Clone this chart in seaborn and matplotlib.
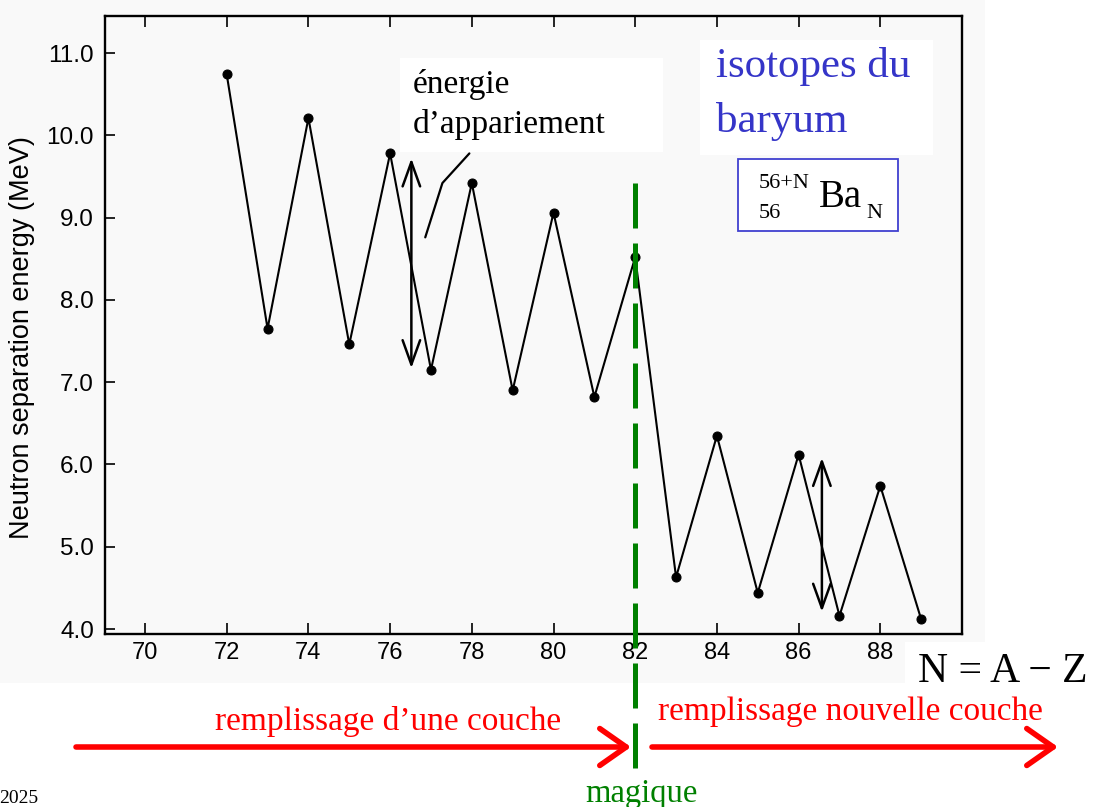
import numpy as np
import pandas as pd
import matplotlib
matplotlib.use("Agg")
import matplotlib.pyplot as plt
import matplotlib.transforms as mtransforms
from matplotlib.patches import Rectangle, FancyArrowPatch
from matplotlib.lines import Line2D
import seaborn as sns

# ---------------- data ----------------
neutrons = [72, 73, 74, 75, 76, 77, 78, 79, 80, 81, 82, 83, 84, 85, 86, 87, 88, 89]
sep_energy = [10.74, 7.65, 10.21, 7.46, 9.78, 7.15, 9.42, 6.90, 9.06, 6.82,
              8.52, 4.63, 6.35, 4.44, 6.12, 4.16, 5.74, 4.12]
x_ticks = [70, 72, 74, 76, 78, 80, 82, 84, 86, 88]
y_ticks = [4.0, 5.0, 6.0, 7.0, 8.0, 9.0, 10.0, 11.0]
magic_number = 82

df = pd.DataFrame({"N": neutrons, "Sn": sep_energy})

W, H = 1099, 807
sns.set_theme(style="white")
plt.rcParams['font.family'] = ['Liberation Sans', 'DejaVu Sans']
SERIF = ['Liberation Serif', 'DejaVu Serif']

fig = plt.figure(figsize=(W / 100, H / 100), dpi=100)
fig.patch.set_facecolor('white')


def fx(x):
    return x / W


def fy(y):
    return 1 - y / H


def frect(x0, y0, x1, y1, **kw):
    r = Rectangle((fx(x0), fy(y1)), (x1 - x0) / W, (y1 - y0) / H,
                  transform=fig.transFigure, **kw)
    fig.add_artist(r)
    return r


# scanned-page background
frect(0, 0, 985, 642, facecolor='#f9f9f9', edgecolor='none', zorder=-5)
frect(0, 642, 905, 683, facecolor='#f9f9f9', edgecolor='none', zorder=-5)

# ---------------- axes ----------------
ax = fig.add_axes([fx(105), fy(634), fx(962) - fx(105), (634 - 16) / H])
ax.set_facecolor('none')

sns.lineplot(data=df, x="N", y="Sn", ax=ax, color='black', lw=1.5,
             marker='o', markersize=6.5, markeredgecolor='black',
             markerfacecolor='black')

ax.set_xlim(69.02, 90.0)
ax.set_ylim(3.94, 11.45)
ax.set_xticks(x_ticks)
ax.set_xticklabels([str(t) for t in x_ticks])
ax.set_yticks(y_ticks)
ax.set_yticklabels([f"{t:.1f}" for t in y_ticks])
ax.set_xlabel('')
ax.set_ylabel('')
for s in ax.spines.values():
    s.set_visible(True)
    s.set_color('black')
    s.set_linewidth(1.7)
ax.tick_params(axis='x', which='both', direction='in', top=True, bottom=True,
               length=8, width=1.2, labelsize=17, pad=6, colors='black')
ax.tick_params(axis='y', direction='in', left=True, right=False,
               length=7, width=1.2, labelsize=17.5, pad=8, colors='black')

fig.text(fx(22), fy(338), "Neutron separation energy (MeV)", rotation=90,
         ha='center', va='center', fontsize=19.5, color='black')

# hand-drawn pairing-energy arrows
for (xa, y0, y1) in [(76.52, 9.72, 7.17), (86.57, 6.08, 4.21)]:
    arr = FancyArrowPatch((xa, y0), (xa, y1), transform=ax.transData,
                          arrowstyle='<->,head_length=0.5,head_width=0.18',
                          mutation_scale=35, lw=1.8, color='black',
                          shrinkA=0, shrinkB=0, zorder=4)
    ax.add_patch(arr)
ax.plot([77.94, 77.28, 76.86], [9.78, 9.42, 8.76], color='black', lw=1.6,
        zorder=4)

# ---------------- annotations ----------------
# white label boxes
frect(400, 58, 663, 152, facecolor='white', edgecolor='none', zorder=1)
frect(700, 40, 933, 155, facecolor='white', edgecolor='none', zorder=1)
frect(738, 159, 898, 231, facecolor='white', edgecolor='#4040d0',
      linewidth=1.3, zorder=1)

fig.text(fx(413), fy(93), "énergie", family=SERIF, fontsize=24,
         ha='left', va='baseline', color='black', zorder=3)
fig.text(fx(413), fy(133), "d’appariement", family=SERIF, fontsize=24,
         ha='left', va='baseline', color='black', zorder=3)

blue = '#3535c8'
fig.text(fx(716), fy(77), "isotopes du", family=SERIF, fontsize=31,
         ha='left', va='baseline', color=blue, zorder=3)
fig.text(fx(716), fy(132), "baryum", family=SERIF, fontsize=31,
         ha='left', va='baseline', color=blue, zorder=3)

fig.text(fx(759), fy(188), "56+N", family=SERIF, fontsize=16,
         ha='left', va='baseline', color='black', zorder=3)
fig.text(fx(759), fy(218), "56", family=SERIF, fontsize=16,
         ha='left', va='baseline', color='black', zorder=3)
fig.text(fx(819), fy(207), "Ba", family=SERIF, fontsize=28,
         ha='left', va='baseline', color='black', zorder=3)
fig.text(fx(866), fy(218), "N", family=SERIF, fontsize=16,
         ha='left', va='baseline', color='black', zorder=3)

fig.text(fx(918), fy(682), "N = A − Z", family=SERIF, fontsize=30,
         ha='left', va='baseline', color='black', zorder=3)

# magic number line
blend = mtransforms.blended_transform_factory(ax.transData, fig.transFigure)
gl = Line2D([magic_number, magic_number], [fy(183), fy(775)], transform=blend,
            color='#008000', lw=3.6, dashes=(9, 3), zorder=6)
fig.add_artist(gl)
fig.text(fx(641), fy(802), "magique", family=SERIF, fontsize=23.5,
         ha='center', va='baseline', color='#008000', zorder=3)

# red shell-filling arrows
for (x0, x1) in [(76, 631), (652, 1058)]:
    a = FancyArrowPatch((fx(x0), fy(747)), (fx(x1), fy(747)),
                        transform=fig.transFigure,
                        arrowstyle='->,head_length=0.5,head_width=0.35',
                        mutation_scale=38, lw=4, color='#ff0000',
                        shrinkA=0, shrinkB=0, zorder=3)
    fig.add_artist(a)
fig.text(fx(388), fy(730), "remplissage d’une couche", family=SERIF,
         fontsize=24, ha='center', va='baseline', color='#ff0000', zorder=3)
fig.text(fx(850), fy(720), "remplissage nouvelle couche", family=SERIF,
         fontsize=24, ha='center', va='baseline', color='#ff0000', zorder=3)

fig.text(fx(38), fy(803), "2025", family=SERIF, fontsize=14,
         ha='right', va='baseline', color='black', zorder=3)

fig.savefig("out.png", dpi=100, facecolor='white')
